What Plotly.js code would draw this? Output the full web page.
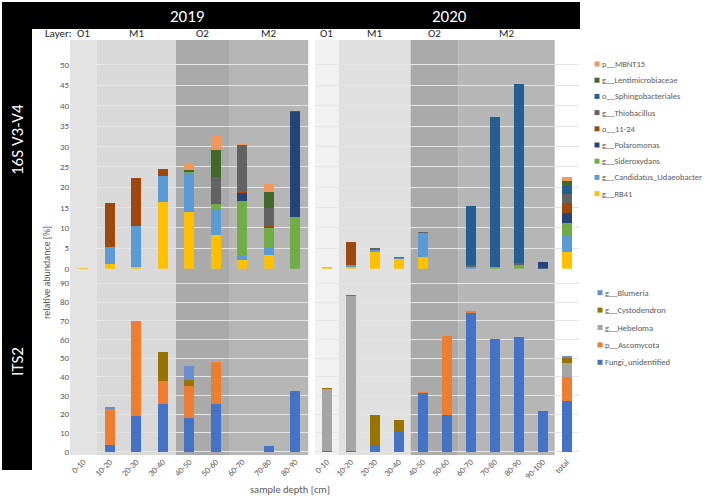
<!DOCTYPE html>
<html><head><meta charset="utf-8">
<script src="https://cdn.plot.ly/plotly-3.0.1.min.js"></script>
<style>html,body{margin:0;padding:0;background:#fff}#chart{width:708px;height:500px}</style>
</head><body><div id="chart"></div>
<script>
// ---------- data ----------
const depths2019 = ['0-10','10-20','20-30','30-40','40-50','50-60','60-70','70-80','80-90'];
const depths2020 = ['0-10','10-20','20-30','30-40','40-50','50-60','60-70','70-80','80-90','90-100','total'];
const layers2019 = ['O1','M1','M1','M1','O2','O2','M2','M2','M2'];
const layers2020 = ['O1','M1','M1','M1','O2','O2','M2','M2','M2','M2',null];

const names16S  = ['g__RB41','g__Candidatus_Udaeobacter','g__Sideroxydans','g__Polaromonas','o__11-24','g__Thiobacillus','o__Sphingobacteriales','g__Lentimicrobiaceae','p__MBNT15'];
const colors16S = ['#FFC000','#5B9BD5','#70AD47','#264478','#9E480E','#636363','#255E91','#43682B','#F1975A'];
const rb41_2019      = [0.2, 1.2, 0.4, 16.4, 13.8, 8.2, 2.2, 3.3, 0];
const udaeo_2019     = [0, 4.2, 10.1, 6.3, 9.6, 6.4, 1.2, 1.9, 0];
const sidero_2019    = [0, 0, 0, 0, 0.2, 1.3, 13.2, 4.9, 12.7];
const polaro_2019    = [0, 0, 0, 0, 0, 0, 2.0, 0, 25.7];
const o1124_2019     = [0, 10.6, 11.8, 1.8, 0, 0.2, 0.3, 0.3, 0];
const thioba_2019    = [0, 0, 0, 0, 0, 6.5, 11.4, 4.4, 0];
const sphingo_2019   = [0, 0, 0, 0, 0, 0, 0, 0, 0];
const lentimi_2019   = [0, 0, 0, 0, 0.7, 6.4, 0, 4.0, 0.2];
const mbnt15_2019    = [0, 0, 0, 0, 1.6, 3.6, 0.4, 2.1, 0];
const rb41_2020      = [0.4, 0.5, 4.1, 2.3, 2.9, 0, 0, 0, 0, 0, 4.1];
const udaeo_2020     = [0, 0.3, 0.5, 0.3, 5.8, 0, 0.2, 0, 0, 0, 4.0];
const sidero_2020    = [0, 0, 0, 0, 0, 0, 0.2, 0.4, 1.0, 0, 3.0];
const polaro_2020    = [0, 0, 0, 0, 0, 0, 0, 0, 0, 1.7, 2.6];
const o1124_2020     = [0.1, 5.7, 0, 0, 0, 0, 0, 0, 0, 0, 2.5];
const thioba_2020    = [0, 0, 0.4, 0.3, 0.3, 0, 0.5, 0, 0.3, 0, 2.1];
const sphingo_2020   = [0, 0, 0, 0, 0, 0, 14.5, 36.8, 44.0, 0, 2.1];
const lentimi_2020   = [0, 0, 0, 0, 0, 0, 0, 0, 0, 0, 1.2];
const mbnt15_2020    = [0, 0, 0, 0, 0, 0, 0, 0, 0, 0, 1.0];

const namesITS  = ['Fungi_unidentified','p__Ascomycota','g__Hebeloma','g__Cystodendron','g__Blumeria'];
const colorsITS = ['#4472C4','#ED7D31','#A5A5A5','#997300','#698ED0'];
const fungi_2019   = [0, 3.6, 19.1, 25.3, 18.2, 25.5, 0, 3.0, 32.4];
const ascomy_2019  = [0, 19.4, 50.9, 12.7, 16.9, 22.6, 0, 0, 0];
const hebelo_2019  = [0, 0, 0, 0, 0, 0, 0, 0, 0.3];
const cystod_2019  = [0, 0, 0, 15.5, 3.2, 0, 0, 0, 0];
const blumer_2019  = [0, 1.1, 0, 0, 7.7, 0, 0, 0, 0];
const fungi_2020   = [0.5, 0.3, 3.0, 11.0, 31.5, 19.4, 74.0, 60.1, 61.5, 21.7, 27.1];
const ascomy_2020  = [0, 0, 0, 0, 0.3, 42.4, 1.0, 0, 0, 0, 12.7];
const hebelo_2020  = [33.2, 82.9, 0, 0, 0, 0, 0, 0, 0, 0, 7.8];
const cystod_2020  = [0.3, 0.6, 16.4, 5.8, 0, 0, 0, 0, 0, 0, 2.3];
const blumer_2020  = [0, 0, 0, 0.4, 0, 0, 0, 0, 0, 0, 1.4];

const yTicks16S = [0,5,10,15,20,25,30,35,40,45,50];
const yTicksITS = [0,10,20,30,40,50,60,70,80,90];

const vals16S_2019 = [rb41_2019, udaeo_2019, sidero_2019, polaro_2019, o1124_2019, thioba_2019, sphingo_2019, lentimi_2019, mbnt15_2019];
const vals16S_2020 = [rb41_2020, udaeo_2020, sidero_2020, polaro_2020, o1124_2020, thioba_2020, sphingo_2020, lentimi_2020, mbnt15_2020];
const valsITS_2019 = [fungi_2019, ascomy_2019, hebelo_2019, cystod_2019, blumer_2019];
const valsITS_2020 = [fungi_2020, ascomy_2020, hebelo_2020, cystod_2020, blumer_2020];

// ---------- helpers ----------
const W = 708, H = 500;
const px = p => p / W;
const py = p => 1 - p / H;
const FONT = 'Carlito, Lato, "Liberation Sans", sans-serif';
const GREY = '#595959';

const traces = [];
function addBars(cats, vals, names, colors, xa, ya, width) {
  vals.forEach((v, i) => {
    traces.push({
      type: 'bar', x: cats, y: v, name: names[i], xaxis: xa, yaxis: ya,
      width: width, marker: {color: colors[i], line: {width: 0}},
      showlegend: false, hoverinfo: 'skip'
    });
  });
}
addBars(depths2019, vals16S_2019, names16S, colors16S, 'x', 'y', 0.38);
addBars(depths2020, vals16S_2020, names16S, colors16S, 'x2', 'y2', 0.40);
addBars(depths2019, valsITS_2019, namesITS, colorsITS, 'x', 'y3', 0.38);
addBars(depths2020, valsITS_2020, namesITS, colorsITS, 'x2', 'y4', 0.40);

// ---------- layer shading ----------
const shapes = [];
const annotations = [];
const layerFill = {
  x:  {O1: '#E3E3E3', M1: '#D9D9D9', O2: '#AAAAAA', M2: '#B6B6B6'},
  x2: {O1: '#F1F1F1', M1: '#E0E0E0', O2: '#AAAAAA', M2: '#B6B6B6'}
};
function layerRegions(layers, xref) {
  let start = 0;
  for (let i = 1; i <= layers.length; i++) {
    if (i === layers.length || layers[i] !== layers[start]) {
      const name = layers[start];
      if (name) {
        shapes.push({type: 'rect', layer: 'below', xref: xref, yref: 'paper',
          x0: start - 0.5, x1: i - 0.5, y0: py(455), y1: py(40),
          fillcolor: layerFill[xref][name], line: {width: 0}});
        annotations.push({xref: xref, yref: 'paper', x: (start + i - 1) / 2, y: py(33),
          text: name, showarrow: false, font: {size: 11, color: '#262626', family: FONT},
          xanchor: 'center', yanchor: 'middle'});
      }
      start = i;
    }
  }
}
layerRegions(layers2019, 'x');
layerRegions(layers2020, 'x2');
annotations.push({xref: 'paper', yref: 'paper', x: px(74), y: py(33), text: 'Layer:',
  showarrow: false, xanchor: 'right', yanchor: 'middle', font: {size: 11, color: '#262626', family: FONT}});

// ---------- black header bands ----------
shapes.push({type: 'rect', xref: 'paper', yref: 'paper', x0: px(2), x1: px(580), y0: py(29), y1: py(2),
  fillcolor: '#000', line: {width: 0}});
shapes.push({type: 'rect', xref: 'paper', yref: 'paper', x0: px(2), x1: px(32), y0: py(470), y1: py(2),
  fillcolor: '#000', line: {width: 0}});
const bandTxt = (t, x, y, ang) => annotations.push({xref: 'paper', yref: 'paper', x: px(x), y: py(y),
  text: t, showarrow: false, textangle: ang, xanchor: 'center', yanchor: 'middle',
  font: {size: 17, color: '#fff', family: FONT}});
bandTxt('2019', 187, 16, 0);
bandTxt('2020', 449, 16, 0);
bandTxt('16S V3-V4', 17, 140, -90);
bandTxt('ITS2', 17, 362, -90);

// axis titles
annotations.push({xref: 'paper', yref: 'paper', x: px(46), y: py(273), text: 'relative abundance [%]',
  showarrow: false, textangle: -90, xanchor: 'center', yanchor: 'middle', font: {size: 10, color: GREY, family: FONT}});
annotations.push({xref: 'paper', yref: 'paper', x: px(290), y: py(489), text: 'sample depth [cm]',
  showarrow: false, xanchor: 'center', yanchor: 'middle', font: {size: 10.5, color: GREY, family: FONT}});

// ---------- manual legends ----------
function legend(names, colors, top, step, sqx, txtx) {
  const n = names.length;
  for (let k = 0; k < n; k++) {
    const i = n - 1 - k;
    const yy = top + step * k;
    shapes.push({type: 'rect', xref: 'paper', yref: 'paper', x0: px(sqx), x1: px(sqx + 5),
      y0: py(yy + 2.5), y1: py(yy - 2.5), fillcolor: colors[i], line: {width: 0}});
    annotations.push({xref: 'paper', yref: 'paper', x: px(txtx), y: py(yy), text: names[i],
      showarrow: false, xanchor: 'left', yanchor: 'middle', font: {size: 8.5, color: GREY, family: FONT}});
  }
}
legend(names16S, colors16S, 64, 16.2, 594.5, 600);
legend(namesITS, colorsITS, 292.7, 17.4, 597.5, 603);

// ---------- axes ----------
const xCommon = {type: 'category', showgrid: false, showline: false, zeroline: false, ticks: '',
  tickangle: -45, tickfont: {size: 8.5, color: GREY, family: FONT}, fixedrange: true};
const yCommon = {showline: false, zeroline: false, ticks: '', gridcolor: '#E4E4E4', gridwidth: 1,
  tickfont: {size: 9, color: GREY, family: FONT}, tickmode: 'array', fixedrange: true};

const layout = {
  width: W, height: H, margin: {l: 0, r: 0, t: 0, b: 0},
  paper_bgcolor: '#fff', plot_bgcolor: 'rgba(0,0,0,0)',
  barmode: 'stack', showlegend: false, hovermode: false,
  font: {family: FONT, color: GREY},
  xaxis:  Object.assign({}, xCommon, {domain: [px(70), px(308.5)], anchor: 'y3', categoryarray: depths2019, categoryorder: 'array', range: [-0.5, 8.5]}),
  xaxis2: Object.assign({}, xCommon, {domain: [px(314.7), px(578.7)], anchor: 'y4', categoryarray: depths2020, categoryorder: 'array', range: [-0.5, 10.5]}),
  yaxis:  Object.assign({}, yCommon, {domain: [py(268.7), py(40)], anchor: 'x', range: [0, 56.1], tickvals: yTicks16S}),
  yaxis2: Object.assign({}, yCommon, {domain: [py(268.7), py(40)], anchor: 'x2', range: [0, 56.1], tickvals: yTicks16S, showticklabels: false}),
  yaxis3: Object.assign({}, yCommon, {domain: [py(454.5), py(268.7)], anchor: 'x', range: [-1.5, 97.8], tickvals: yTicksITS}),
  yaxis4: Object.assign({}, yCommon, {domain: [py(454.5), py(268.7)], anchor: 'x2', range: [-1.5, 97.8], tickvals: yTicksITS, showticklabels: false}),
  shapes: shapes, annotations: annotations
};

Plotly.newPlot('chart', traces, layout, {staticPlot: true, displayModeBar: false});
</script>
</body></html>
